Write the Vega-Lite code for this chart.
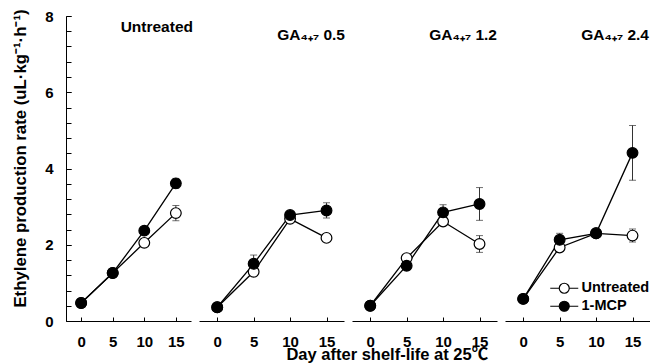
{
  "$schema": "https://vega.github.io/schema/vega-lite/v6.json",
  "padding": {"left": 12, "top": 8, "right": 0, "bottom": 0},
  "config": {
    "view": {"stroke": null},
    "font": "Liberation Sans",
    "axis": {"labelFont": "Liberation Sans", "labelFontWeight": "bold", "labelFontSize": 15, "labelColor": "black", "titleFont": "Liberation Sans", "titleFontWeight": "bold", "titleFontSize": 16.8, "titleColor": "black", "domainColor": "black", "tickColor": "black", "grid": false, "domainWidth": 1, "tickWidth": 1},
    "title": {"font": "Liberation Sans", "fontWeight": "bold", "fontSize": 15.5, "color": "black"},
    "legend": {"labelFont": "Liberation Sans", "labelFontWeight": "bold", "labelFontSize": 14.5, "labelColor": "black"}
  },
  "datasets": {
    "d": [
      {"panel": "P1", "treat": "Untreated", "day": 0, "value": 0.47, "lo": 0.47, "hi": 0.47},
      {"panel": "P1", "treat": "Untreated", "day": 5, "value": 1.26, "lo": 1.26, "hi": 1.26},
      {"panel": "P1", "treat": "Untreated", "day": 10, "value": 2.05, "lo": 1.97, "hi": 2.13},
      {"panel": "P1", "treat": "Untreated", "day": 15, "value": 2.83, "lo": 2.63, "hi": 3.03},
      {"panel": "P1", "treat": "1-MCP", "day": 0, "value": 0.47, "lo": 0.47, "hi": 0.47},
      {"panel": "P1", "treat": "1-MCP", "day": 5, "value": 1.26, "lo": 1.26, "hi": 1.26},
      {"panel": "P1", "treat": "1-MCP", "day": 10, "value": 2.37, "lo": 2.32, "hi": 2.42},
      {"panel": "P1", "treat": "1-MCP", "day": 15, "value": 3.61, "lo": 3.48, "hi": 3.74},
      {"panel": "P2", "treat": "Untreated", "day": 0, "value": 0.36, "lo": 0.36, "hi": 0.36},
      {"panel": "P2", "treat": "Untreated", "day": 5, "value": 1.29, "lo": 1.29, "hi": 1.29},
      {"panel": "P2", "treat": "Untreated", "day": 10, "value": 2.68, "lo": 2.68, "hi": 2.68},
      {"panel": "P2", "treat": "Untreated", "day": 15, "value": 2.18, "lo": 2.18, "hi": 2.18},
      {"panel": "P2", "treat": "1-MCP", "day": 0, "value": 0.36, "lo": 0.36, "hi": 0.36},
      {"panel": "P2", "treat": "1-MCP", "day": 5, "value": 1.5, "lo": 1.27, "hi": 1.73},
      {"panel": "P2", "treat": "1-MCP", "day": 10, "value": 2.78, "lo": 2.78, "hi": 2.78},
      {"panel": "P2", "treat": "1-MCP", "day": 15, "value": 2.9, "lo": 2.7, "hi": 3.1},
      {"panel": "P3", "treat": "Untreated", "day": 0, "value": 0.4, "lo": 0.4, "hi": 0.4},
      {"panel": "P3", "treat": "Untreated", "day": 5, "value": 1.65, "lo": 1.65, "hi": 1.65},
      {"panel": "P3", "treat": "Untreated", "day": 10, "value": 2.61, "lo": 2.61, "hi": 2.61},
      {"panel": "P3", "treat": "Untreated", "day": 15, "value": 2.02, "lo": 1.8, "hi": 2.24},
      {"panel": "P3", "treat": "1-MCP", "day": 0, "value": 0.4, "lo": 0.4, "hi": 0.4},
      {"panel": "P3", "treat": "1-MCP", "day": 5, "value": 1.45, "lo": 1.45, "hi": 1.45},
      {"panel": "P3", "treat": "1-MCP", "day": 10, "value": 2.85, "lo": 2.65, "hi": 3.05},
      {"panel": "P3", "treat": "1-MCP", "day": 15, "value": 3.07, "lo": 2.64, "hi": 3.5},
      {"panel": "P4", "treat": "Untreated", "day": 0, "value": 0.58, "lo": 0.58, "hi": 0.58},
      {"panel": "P4", "treat": "Untreated", "day": 5, "value": 1.93, "lo": 1.93, "hi": 1.93},
      {"panel": "P4", "treat": "Untreated", "day": 10, "value": 2.3, "lo": 2.3, "hi": 2.3},
      {"panel": "P4", "treat": "Untreated", "day": 15, "value": 2.24, "lo": 2.07, "hi": 2.41},
      {"panel": "P4", "treat": "1-MCP", "day": 0, "value": 0.58, "lo": 0.58, "hi": 0.58},
      {"panel": "P4", "treat": "1-MCP", "day": 5, "value": 2.13, "lo": 1.96, "hi": 2.3},
      {"panel": "P4", "treat": "1-MCP", "day": 10, "value": 2.3, "lo": 2.3, "hi": 2.3},
      {"panel": "P4", "treat": "1-MCP", "day": 15, "value": 4.41, "lo": 3.69, "hi": 5.13}
    ]
  },
  "data": {"name": "d"},
  "title": {"text": "Day after shelf-life at 25℃", "orient": "bottom", "anchor": "middle", "font": "Liberation Sans, Noto Sans CJK SC", "fontSize": 16.5, "offset": -2, "dx": 56},
  "bounds": "flush",
  "spacing": 8,
  "resolve": {"legend": {"fill": "independent"}},
  "hconcat": [
    {
      "width": 125, "height": 305,
      "title": {"text": "Untreated", "anchor": "end", "offset": -27, "dx": 2},
      "transform": [{"filter": "datum.panel == 'P1'"}],
      "resolve": {"scale": {"y": "independent"}, "axis": {"y": "independent"}},
      "encoding": {"x": {"field": "day", "type": "quantitative", "scale": {"domain": [-2.4, 17.4], "nice": false, "zero": false}, "axis": {"values": [0, 5, 10, 15], "tickSize": -4, "labelPadding": 17, "title": null}}},
      "layer": [
        {"mark": {"type": "point", "opacity": 0}, "encoding": {"y": {"field": "value", "type": "quantitative", "scale": {"domain": [0, 8], "nice": false}, "axis": {"orient": "left", "values": [0, 0.4, 0.8, 1.2, 1.6, 2, 2.4, 2.8, 3.2, 3.6, 4, 4.4, 4.8, 5.2, 5.6, 6, 6.4, 6.8, 7.2, 7.6, 8], "labels": false, "domain": false, "title": null, "tickSize": -5}}}},
        {"mark": {"type": "line", "color": "black", "strokeWidth": 1.3}, "encoding": {"y": {"field": "value", "type": "quantitative", "title": "Ethylene production rate (uL·kg⁻¹·h⁻¹)", "scale": {"domain": [0, 8], "nice": false}, "axis": {"orient": "left", "values": [0, 2, 4, 6, 8], "format": "d", "labelOverlap": false, "tickSize": -5, "labelPadding": 18, "titlePadding": 15, "titleY": 142}}, "detail": {"field": "treat"}}},
        {"mark": {"type": "errorbar", "color": "#333", "ticks": {"size": 7, "color": "#333"}}, "encoding": {"y": {"field": "lo", "type": "quantitative", "scale": {"domain": [0, 8], "nice": false}, "axis": null}, "y2": {"field": "hi"}}},
        {"mark": {"type": "point", "shape": "circle", "size": 115, "stroke": "black", "strokeWidth": 1.2, "opacity": 1, "filled": true}, "encoding": {"y": {"field": "value", "type": "quantitative", "scale": {"domain": [0, 8], "nice": false}, "axis": null}, "fill": {"field": "treat", "type": "nominal", "scale": {"domain": ["Untreated", "1-MCP"], "range": ["white", "black"]}, "legend": null}}}
      ]
    },
    {
      "width": 145, "height": 305,
      "title": {"text": "GA₄₊₇ 0.5", "anchor": "end", "offset": -27, "dx": 1},
      "transform": [{"filter": "datum.panel == 'P2'"}],
      "encoding": {"x": {"field": "day", "type": "quantitative", "scale": {"domain": [-2.5, 17.4], "nice": false, "zero": false}, "axis": {"values": [0, 5, 10, 15], "tickSize": -4, "labelPadding": 17, "title": null}}},
      "layer": [
        {"mark": {"type": "line", "color": "black", "strokeWidth": 1.3}, "encoding": {"y": {"field": "value", "type": "quantitative", "scale": {"domain": [0, 8], "nice": false}, "axis": null}, "detail": {"field": "treat"}}},
        {"mark": {"type": "errorbar", "color": "#333", "ticks": {"size": 7, "color": "#333"}}, "encoding": {"y": {"field": "lo", "type": "quantitative", "axis": null}, "y2": {"field": "hi"}}},
        {"mark": {"type": "point", "shape": "circle", "size": 115, "stroke": "black", "strokeWidth": 1.2, "opacity": 1, "filled": true}, "encoding": {"y": {"field": "value", "type": "quantitative", "axis": null}, "fill": {"field": "treat", "type": "nominal", "scale": {"domain": ["Untreated", "1-MCP"], "range": ["white", "black"]}, "legend": null}}}
      ]
    },
    {
      "width": 145, "height": 305,
      "title": {"text": "GA₄₊₇ 1.2", "anchor": "end", "offset": -27, "dx": 0},
      "transform": [{"filter": "datum.panel == 'P3'"}],
      "encoding": {"x": {"field": "day", "type": "quantitative", "scale": {"domain": [-2.5, 17.4], "nice": false, "zero": false}, "axis": {"values": [0, 5, 10, 15], "tickSize": -4, "labelPadding": 17, "title": null}}},
      "layer": [
        {"mark": {"type": "line", "color": "black", "strokeWidth": 1.3}, "encoding": {"y": {"field": "value", "type": "quantitative", "scale": {"domain": [0, 8], "nice": false}, "axis": null}, "detail": {"field": "treat"}}},
        {"mark": {"type": "errorbar", "color": "#333", "ticks": {"size": 7, "color": "#333"}}, "encoding": {"y": {"field": "lo", "type": "quantitative", "axis": null}, "y2": {"field": "hi"}}},
        {"mark": {"type": "point", "shape": "circle", "size": 115, "stroke": "black", "strokeWidth": 1.2, "opacity": 1, "filled": true}, "encoding": {"y": {"field": "value", "type": "quantitative", "axis": null}, "fill": {"field": "treat", "type": "nominal", "scale": {"domain": ["Untreated", "1-MCP"], "range": ["white", "black"]}, "legend": null}}}
      ]
    },
    {
      "width": 145, "height": 305,
      "title": {"text": "GA₄₊₇ 2.4", "anchor": "end", "offset": -27, "dx": -1},
      "transform": [{"filter": "datum.panel == 'P4'"}],
      "encoding": {"x": {"field": "day", "type": "quantitative", "scale": {"domain": [-2.5, 17.4], "nice": false, "zero": false}, "axis": {"values": [0, 5, 10, 15], "tickSize": -4, "labelPadding": 17, "title": null}}},
      "layer": [
        {"mark": {"type": "line", "color": "black", "strokeWidth": 1.3}, "encoding": {"y": {"field": "value", "type": "quantitative", "scale": {"domain": [0, 8], "nice": false}, "axis": null}, "detail": {"field": "treat"}}},
        {"mark": {"type": "errorbar", "color": "#333", "ticks": {"size": 7, "color": "#333"}}, "encoding": {"y": {"field": "lo", "type": "quantitative", "axis": null}, "y2": {"field": "hi"}}},
        {"mark": {"type": "point", "shape": "circle", "size": 115, "stroke": "black", "strokeWidth": 1.2, "opacity": 1, "filled": true}, "encoding": {"y": {"field": "value", "type": "quantitative", "axis": null}, "fill": {"field": "treat", "type": "nominal", "title": null, "scale": {"domain": ["Untreated", "1-MCP"], "range": ["white", "black"]}, "legend": {"orient": "none", "legendX": 52, "legendY": 265, "padding": 0, "rowPadding": 2, "symbolType": "M-2.8,0H-1M1,0H2.8M-1,0A1,1,0,1,0,1,0A1,1,0,1,0,-1,0Z", "symbolSize": 100, "symbolStrokeColor": "black", "symbolStrokeWidth": 1.2, "labelOffset": 10}}}}
      ]
    }
  ]
}
